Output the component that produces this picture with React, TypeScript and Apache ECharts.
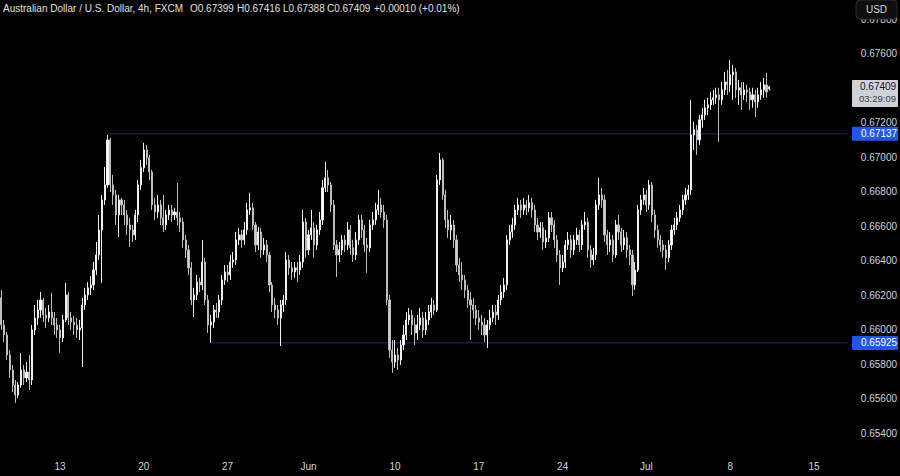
import React, { useEffect, useRef } from "react";
import * as echarts from "echarts";

// AUD/USD 4h candles (FXCM), oldest first
const opens = [
  0.66186,0.66029,0.65971,0.65855,0.65768,0.65681,0.65623,0.65681,0.65768,0.65722,
  0.65756,0.65710,0.66000,0.66070,0.66116,0.66174,0.66087,0.66070,0.66104,0.66070,
  0.66029,0.66000,0.65954,0.66058,0.66203,0.66070,0.66046,0.66029,0.66000,0.66012,
  0.66145,0.66203,0.66244,0.66261,0.66348,0.66435,0.66580,0.66754,0.66841,0.67102,
  0.66841,0.66783,0.66667,0.66754,0.66725,0.66667,0.66609,0.66580,0.66551,0.66667,
  0.66841,0.66940,0.67044,0.66998,0.66916,0.66725,0.66684,0.66725,0.66650,0.66609,
  0.66667,0.66696,0.66667,0.66684,0.66650,0.66626,0.66522,0.66464,0.66360,0.66174,
  0.66203,0.66278,0.66261,0.66394,0.66174,0.66029,0.66046,0.66116,0.66104,0.66174,
  0.66290,0.66336,0.66319,0.66394,0.66406,0.66522,0.66551,0.66522,0.66580,0.66696,
  0.66708,0.66609,0.66493,0.66568,0.66464,0.66493,0.66435,0.66261,0.66145,0.66116,
  0.66070,0.66145,0.66174,0.66406,0.66360,0.66336,0.66360,0.66348,0.66394,0.66626,
  0.66464,0.66551,0.66592,0.66493,0.66580,0.66638,0.66824,0.66882,0.66841,0.66725,
  0.66493,0.66435,0.66464,0.66522,0.66493,0.66580,0.66476,0.66435,0.66522,0.66638,
  0.66580,0.66493,0.66476,0.66609,0.66638,0.66696,0.66725,0.66684,0.66638,0.66174,
  0.65884,0.65814,0.65855,0.65826,0.65913,0.65971,0.66058,0.66087,0.66029,0.65983,
  0.66029,0.66070,0.66000,0.66058,0.66104,0.66145,0.66116,0.66870,0.66986,0.66783,
  0.66638,0.66580,0.66609,0.66522,0.66377,0.66319,0.66290,0.66232,0.66174,0.66145,
  0.66116,0.66070,0.66046,0.66029,0.65971,0.66029,0.66070,0.66104,0.66087,0.66174,
  0.66220,0.66261,0.66522,0.66568,0.66609,0.66696,0.66725,0.66696,0.66725,0.66708,
  0.66737,0.66696,0.66609,0.66568,0.66592,0.66510,0.66534,0.66650,0.66609,0.66522,
  0.66435,0.66360,0.66394,0.66493,0.66522,0.66464,0.66522,0.66551,0.66493,0.66609,
  0.66626,0.66464,0.66406,0.66435,0.66725,0.66783,0.66754,0.66551,0.66493,0.66522,
  0.66435,0.66609,0.66568,0.66493,0.66534,0.66464,0.66435,0.66261,0.66348,0.66696,
  0.66754,0.66783,0.66725,0.66841,0.66667,0.66580,0.66522,0.66493,0.66464,0.66418,
  0.66493,0.66580,0.66609,0.66650,0.66696,0.66754,0.66783,0.66812,0.67131,0.67160,
  0.67102,0.67218,0.67247,0.67288,0.67305,0.67334,0.67346,0.67363,0.67334,0.67392,
  0.67438,0.67421,0.67479,0.67496,0.67392,0.67404,0.67363,0.67392,0.67380,0.67334,
  0.67363,0.67322,0.67363,0.67392,0.67421,0.67399,
];
const closes = [
  0.66029,0.65971,0.65855,0.65768,0.65681,0.65623,0.65681,0.65768,0.65722,0.65756,
  0.65710,0.66000,0.66070,0.66116,0.66174,0.66087,0.66070,0.66104,0.66070,0.66029,
  0.66000,0.65954,0.66058,0.66203,0.66070,0.66046,0.66029,0.66000,0.66012,0.66145,
  0.66203,0.66244,0.66261,0.66348,0.66435,0.66580,0.66754,0.66841,0.67102,0.66841,
  0.66783,0.66667,0.66754,0.66725,0.66667,0.66609,0.66580,0.66551,0.66667,0.66841,
  0.66940,0.67044,0.66998,0.66916,0.66725,0.66684,0.66725,0.66650,0.66609,0.66667,
  0.66696,0.66667,0.66684,0.66650,0.66626,0.66522,0.66464,0.66360,0.66174,0.66203,
  0.66278,0.66261,0.66394,0.66174,0.66029,0.66046,0.66116,0.66104,0.66174,0.66290,
  0.66336,0.66319,0.66394,0.66406,0.66522,0.66551,0.66522,0.66580,0.66696,0.66708,
  0.66609,0.66493,0.66568,0.66464,0.66493,0.66435,0.66261,0.66145,0.66116,0.66070,
  0.66145,0.66174,0.66406,0.66360,0.66336,0.66360,0.66348,0.66394,0.66626,0.66464,
  0.66551,0.66592,0.66493,0.66580,0.66638,0.66824,0.66882,0.66841,0.66725,0.66493,
  0.66435,0.66464,0.66522,0.66493,0.66580,0.66476,0.66435,0.66522,0.66638,0.66580,
  0.66493,0.66476,0.66609,0.66638,0.66696,0.66725,0.66684,0.66638,0.66174,0.65884,
  0.65814,0.65855,0.65826,0.65913,0.65971,0.66058,0.66087,0.66029,0.65983,0.66029,
  0.66070,0.66000,0.66058,0.66104,0.66145,0.66116,0.66870,0.66986,0.66783,0.66638,
  0.66580,0.66609,0.66522,0.66377,0.66319,0.66290,0.66232,0.66174,0.66145,0.66116,
  0.66070,0.66046,0.66029,0.65971,0.66029,0.66070,0.66104,0.66087,0.66174,0.66220,
  0.66261,0.66522,0.66568,0.66609,0.66696,0.66725,0.66696,0.66725,0.66708,0.66737,
  0.66696,0.66609,0.66568,0.66592,0.66510,0.66534,0.66650,0.66609,0.66522,0.66435,
  0.66360,0.66394,0.66493,0.66522,0.66464,0.66522,0.66551,0.66493,0.66609,0.66626,
  0.66464,0.66406,0.66435,0.66725,0.66783,0.66754,0.66551,0.66493,0.66522,0.66435,
  0.66609,0.66568,0.66493,0.66534,0.66464,0.66435,0.66261,0.66348,0.66696,0.66754,
  0.66783,0.66725,0.66841,0.66667,0.66580,0.66522,0.66493,0.66464,0.66418,0.66493,
  0.66580,0.66609,0.66650,0.66696,0.66754,0.66783,0.66812,0.67131,0.67160,0.67102,
  0.67218,0.67247,0.67288,0.67305,0.67334,0.67346,0.67363,0.67334,0.67392,0.67438,
  0.67421,0.67479,0.67496,0.67392,0.67404,0.67363,0.67392,0.67380,0.67334,0.67363,
  0.67322,0.67363,0.67392,0.67421,0.67380,0.67409,
];
const lows = [
  0.66000,0.65930,0.65826,0.65722,0.65640,0.65577,0.65606,0.65664,0.65681,0.65698,
  0.65652,0.65681,0.65971,0.66029,0.66070,0.66046,0.66012,0.66046,0.66029,0.65971,
  0.65954,0.65867,0.65930,0.66046,0.66029,0.66000,0.65971,0.65954,0.65942,0.65785,
  0.66116,0.66174,0.66203,0.66232,0.66319,0.66406,0.66273,0.66725,0.66824,0.66800,
  0.66725,0.66609,0.66539,0.66667,0.66609,0.66551,0.66481,0.66510,0.66522,0.66626,
  0.66812,0.66916,0.66957,0.66870,0.66696,0.66638,0.66650,0.66609,0.66568,0.66580,
  0.66638,0.66626,0.66638,0.66609,0.66568,0.66476,0.66418,0.66319,0.66145,0.66075,
  0.66174,0.66220,0.66232,0.66145,0.65983,0.65925,0.66012,0.66070,0.66070,0.66145,
  0.66261,0.66278,0.66290,0.66360,0.66377,0.66493,0.66476,0.66493,0.66551,0.66667,
  0.66580,0.66452,0.66464,0.66418,0.66435,0.66394,0.66220,0.66104,0.66070,0.66029,
  0.65907,0.66104,0.66145,0.66319,0.66290,0.66302,0.66278,0.66319,0.66360,0.66418,
  0.66435,0.66522,0.66418,0.66464,0.66551,0.66609,0.66800,0.66800,0.66684,0.66464,
  0.66307,0.66394,0.66435,0.66452,0.66464,0.66435,0.66394,0.66406,0.66493,0.66534,
  0.66452,0.66331,0.66452,0.66580,0.66609,0.66667,0.66650,0.66592,0.66145,0.65838,
  0.65751,0.65780,0.65768,0.65797,0.65884,0.65942,0.66029,0.65971,0.65913,0.65942,
  0.66000,0.65954,0.65971,0.66029,0.66070,0.66087,0.66104,0.66841,0.66754,0.66592,
  0.66534,0.66522,0.66476,0.66336,0.66278,0.66232,0.66186,0.66128,0.65942,0.66070,
  0.66029,0.66000,0.65971,0.65930,0.65896,0.66000,0.66046,0.66029,0.66058,0.66145,
  0.66186,0.66232,0.66493,0.66534,0.66580,0.66667,0.66650,0.66667,0.66667,0.66684,
  0.66650,0.66568,0.66522,0.66534,0.66464,0.66476,0.66510,0.66568,0.66476,0.66394,
  0.66261,0.66336,0.66360,0.66464,0.66418,0.66435,0.66493,0.66452,0.66464,0.66580,
  0.66418,0.66360,0.66377,0.66406,0.66696,0.66708,0.66510,0.66435,0.66452,0.66394,
  0.66418,0.66522,0.66452,0.66464,0.66418,0.66377,0.66197,0.66232,0.66336,0.66667,
  0.66725,0.66684,0.66696,0.66626,0.66534,0.66476,0.66452,0.66418,0.66348,0.66394,
  0.66464,0.66551,0.66580,0.66626,0.66667,0.66725,0.66754,0.66783,0.67044,0.67015,
  0.67073,0.67172,0.67218,0.67247,0.67276,0.67305,0.67311,0.67090,0.67305,0.67363,
  0.67363,0.67380,0.67334,0.67346,0.67305,0.67276,0.67334,0.67322,0.67276,0.67288,
  0.67235,0.67288,0.67334,0.67346,0.67346,0.67388,
];
const highs = [
  0.66232,0.66058,0.65988,0.65884,0.65797,0.65710,0.65698,0.65867,0.65797,0.65814,
  0.65855,0.66029,0.66145,0.66174,0.66220,0.66186,0.66128,0.66145,0.66215,0.66104,
  0.66070,0.66029,0.66087,0.66273,0.66220,0.66104,0.66081,0.66070,0.66058,0.66186,
  0.66244,0.66278,0.66313,0.66394,0.66510,0.66667,0.66783,0.66945,0.67131,0.67114,
  0.66899,0.66812,0.66783,0.66766,0.66754,0.66696,0.66650,0.66609,0.66696,0.66870,
  0.66986,0.67085,0.67073,0.67015,0.66928,0.66766,0.66783,0.66754,0.66783,0.66696,
  0.66725,0.66725,0.66708,0.66853,0.66684,0.66650,0.66551,0.66493,0.66394,0.66244,
  0.66319,0.66302,0.66522,0.66418,0.66203,0.66087,0.66145,0.66157,0.66203,0.66319,
  0.66377,0.66377,0.66435,0.66452,0.66568,0.66592,0.66580,0.66626,0.66737,0.66795,
  0.66737,0.66626,0.66597,0.66592,0.66534,0.66522,0.66452,0.66278,0.66186,0.66145,
  0.66174,0.66203,0.66452,0.66435,0.66394,0.66394,0.66394,0.66435,0.66696,0.66650,
  0.66580,0.66696,0.66626,0.66609,0.66684,0.66870,0.66974,0.66928,0.66858,0.66754,
  0.66522,0.66510,0.66551,0.66551,0.66626,0.66609,0.66522,0.66568,0.66667,0.66667,
  0.66609,0.66534,0.66638,0.66684,0.66737,0.66812,0.66766,0.66725,0.66667,0.66203,
  0.65942,0.65942,0.65896,0.65942,0.66029,0.66104,0.66128,0.66116,0.66070,0.66087,
  0.66128,0.66104,0.66104,0.66145,0.66186,0.66174,0.66899,0.67027,0.66998,0.66812,
  0.66696,0.66667,0.66638,0.66551,0.66418,0.66394,0.66319,0.66261,0.66220,0.66186,
  0.66145,0.66116,0.66087,0.66070,0.66058,0.66116,0.66145,0.66145,0.66203,0.66261,
  0.66302,0.66551,0.66609,0.66650,0.66725,0.66766,0.66754,0.66766,0.66754,0.66783,
  0.66766,0.66725,0.66650,0.66626,0.66626,0.66580,0.66684,0.66684,0.66638,0.66551,
  0.66464,0.66435,0.66522,0.66568,0.66551,0.66551,0.66592,0.66580,0.66638,0.66684,
  0.66650,0.66493,0.66476,0.66754,0.66882,0.66824,0.66783,0.66580,0.66568,0.66551,
  0.66638,0.66667,0.66592,0.66580,0.66568,0.66493,0.66464,0.66394,0.66725,0.66783,
  0.66824,0.66812,0.66870,0.66858,0.66696,0.66609,0.66551,0.66522,0.66493,0.66522,
  0.66609,0.66650,0.66684,0.66725,0.66783,0.66824,0.66841,0.67334,0.67206,0.67189,
  0.67247,0.67288,0.67334,0.67346,0.67380,0.67392,0.67404,0.67404,0.67438,0.67496,
  0.67508,0.67566,0.67537,0.67520,0.67450,0.67438,0.67438,0.67421,0.67404,0.67404,
  0.67392,0.67404,0.67438,0.67462,0.67491,0.67416,
];

// time axis: bar slots (incl. empty future space) and week-start tick labels
const barCount = 304;
const tickLabels = ["13", "20", "27", "Jun", "10", "17", "24", "Jul", "8", "15"];
const tickBars = [21, 51, 81, 110, 141, 171, 201, 231, 261, 291];

// horizontal support / resistance levels and the bar they start from
const levels = [0.67137, 0.65925];
const levelStartBars = [38, 75];

const lastPrice = 0.67409;
const countdown = "03:29:09";
const titleParts = [
  "Australian Dollar / U.S. Dollar, 4h, FXCM",
  "O0.67399",
  "H0.67416",
  "L0.67388",
  "C0.67409",
  "+0.00010 (+0.01%)",
];
const titleX = [3, 190, 237, 283, 327, 374];

const FONT = "'Liberation Sans', Arial, sans-serif";
const TEXT = "#d1d4dc";

export default function App() {
  const ref = useRef<HTMLDivElement>(null);

  useEffect(() => {
    const chart = echarts.init(ref.current!, null, { renderer: "svg" });
    const cats = Array.from({ length: barCount }, (_, i) => "b" + i);
    const labelAt: Record<number, string> = {};
    tickBars.forEach((b, k) => (labelAt[b] = tickLabels[k]));
    const candleData = closes.map((c, i) => [opens[i], c, lows[i], highs[i]]);

    const levelSeries = levels.map((lv, k) => ({
      type: "line",
      data: [
        [levelStartBars[k], lv],
        [barCount - 1, lv],
      ],
      showSymbol: false,
      silent: true,
      z: 1,
      lineStyle: { color: "#262a6a", width: 1 },
    }));

    chart.setOption({
      animation: false,
      backgroundColor: "#000000",
      grid: { left: 0, top: 0, width: 849, height: 455 },
      xAxis: {
        type: "category",
        data: cats,
        boundaryGap: true,
        axisLine: { show: false },
        axisTick: { show: false },
        splitLine: { show: false },
        axisLabel: {
          interval: (i: number) => labelAt[i] !== undefined,
          formatter: (_v: string, i: number) => labelAt[i] ?? "",
          color: TEXT,
          fontSize: 10,
          fontFamily: FONT,
          margin: 6,
        },
      },
      yAxis: {
        type: "value",
        position: "right",
        min: 0.65275,
        max: 0.67913,
        minInterval: 0.002,
        maxInterval: 0.002,
        axisLine: { show: false },
        axisTick: { show: false },
        splitLine: { show: false },
        axisLabel: {
          margin: 12,
          color: TEXT,
          fontSize: 10,
          fontFamily: FONT,
          showMinLabel: false,
          formatter: (v: number) =>
            Math.abs(v * 500 - Math.round(v * 500)) < 1e-6 ? v.toFixed(5) : "",
        },
      },
      series: [
        ...levelSeries,
        {
          type: "candlestick",
          data: candleData,
          barWidth: 1.6,
          z: 2,
          itemStyle: {
            color: "#ffffff",
            color0: "#cfcfcf",
            borderColor: "#f0f0f0",
            borderColor0: "#bdbdbd",
            borderWidth: 1,
          },
        },
      ],
    });

    const yPix = (v: number) =>
      chart.convertToPixel({ yAxisIndex: 0 }, v) as number;

    const graphics: any[] = [];
    levels.forEach((lv) => {
      const y = yPix(lv);
      graphics.push({
        type: "rect",
        z: 100,
        shape: { x: 852, y: y - 7, width: 46, height: 14, r: 1 },
        style: { fill: "#2356e8" },
      });
      graphics.push({
        type: "text",
        z: 101,
        x: 861,
        y: y,
        style: {
          text: lv.toFixed(5),
          fill: "#ffffff",
          font: `10px ${FONT}`,
          verticalAlign: "middle",
        },
      });
    });

    const py = yPix(lastPrice);
    graphics.push({
      type: "rect",
      z: 100,
      shape: { x: 852, y: py - 7, width: 46, height: 27, r: 1 },
      style: { fill: "#cfd2d8" },
    });
    graphics.push({
      type: "text",
      z: 101,
      x: 860,
      y: py,
      style: {
        text: lastPrice.toFixed(5),
        fill: "#131722",
        font: `10px ${FONT}`,
        verticalAlign: "middle",
      },
    });
    graphics.push({
      type: "text",
      z: 101,
      x: 859,
      y: py + 12,
      style: {
        text: countdown,
        fill: "#3a3d46",
        font: `9.5px ${FONT}`,
        verticalAlign: "middle",
      },
    });

    // currency button
    graphics.push({
      type: "rect",
      z: 100,
      shape: { x: 856, y: 0, width: 41, height: 19, r: 4 },
      style: { fill: "#0e0e0e", stroke: "#2a2a2a", lineWidth: 1 },
    });
    graphics.push({
      type: "text",
      z: 101,
      x: 876.5,
      y: 9.5,
      style: {
        text: "USD",
        fill: TEXT,
        font: `10px ${FONT}`,
        align: "center",
        verticalAlign: "middle",
      },
    });

    titleParts.forEach((t, k) => {
      graphics.push({
        type: "text",
        z: 101,
        x: titleX[k],
        y: 8,
        style: {
          text: t,
          fill: "#e0e0e0",
          font: `10px ${FONT}`,
          verticalAlign: "middle",
        },
      });
    });

    chart.setOption({ graphic: graphics });

    return () => chart.dispose();
  }, []);

  return (
    <div
      ref={ref}
      style={{ position: "absolute", left: 0, top: 0, width: 900, height: 476 }}
    />
  );
}
